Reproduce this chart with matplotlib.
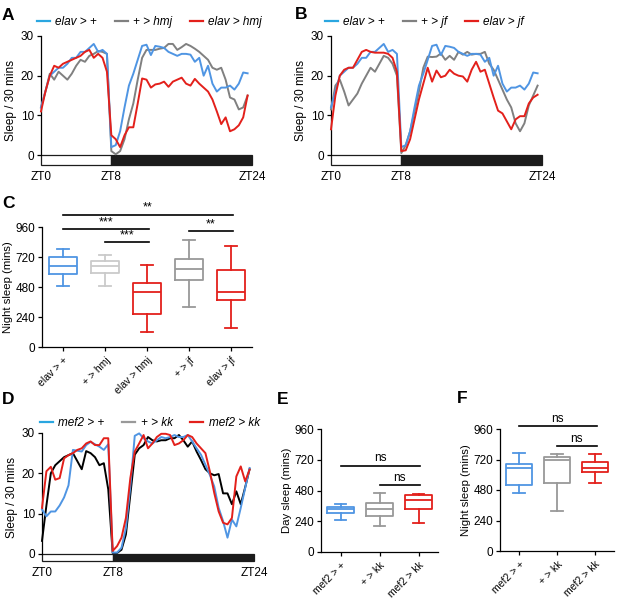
import numpy as np
import matplotlib
matplotlib.use("Agg")
import matplotlib.pyplot as plt
from matplotlib.lines import Line2D

plt.rcParams['font.family'] = ['Liberation Sans', 'DejaVu Sans']
plt.rcParams['font.size'] = 8

# ---------------- data ----------------
# sleep per 30 min bin, 48 bins starting at ZT0
zt = np.arange(48) * 0.5

elav_ctrl = [12, 16, 20, 21, 22, 22, 23, 24.5, 24.5, 26, 26, 27, 28, 26, 26.5, 25.5,
             2, 2.5, 6, 12, 17.5, 20.5, 24, 27.5, 27.8, 25.2, 27.5, 27.3, 27, 26, 25.5, 25,
             25.5, 25.5, 25.3, 23.5, 24.5, 20, 22.5, 18, 16, 17, 17, 17.5, 16.5, 18, 20.8, 20.6]
hmj_ctrl = [12, 16, 20.5, 19, 21, 20, 19, 20.5, 22.5, 24, 23.5, 25, 25.5, 26.2, 26, 25.5,
            1, 0.2, 1, 4, 9, 13, 19, 24.5, 26.5, 26.5, 26.5, 26.8, 27, 28, 28, 26.5,
            27.2, 28, 27.5, 26.8, 26, 25, 24, 22, 21.5, 22, 19, 14.5, 14, 11.5, 12, 15]
elav_hmj = [11, 16, 20, 22.5, 22, 23, 23.5, 24, 24.5, 25, 26, 26.5, 24.5, 25.5, 24.5, 21,
            5, 4, 2, 5, 7, 7, 13, 19.3, 19, 17, 17.8, 18, 18.5, 17.2, 18.5, 19,
            19.5, 18, 17.5, 19.2, 18, 17, 16, 14, 11, 7.8, 9.5, 6, 6.5, 7.5, 9.5, 15]
jf_ctrl = [11.5, 17.5, 19, 16, 12.5, 14, 15.5, 18, 20, 22, 21, 23, 25, 24.5, 23, 20,
           0.5, 2.5, 6, 11, 16, 22, 24.8, 24.7, 24.8, 25.6, 24, 25, 24, 26, 25.3, 26,
           25.3, 25.5, 25.5, 26, 23, 21.5, 19, 16.5, 14, 12, 8, 6, 8, 12.5, 15, 17.5]
elav_jf = [6.5, 15, 20, 21.5, 22, 22, 24, 26, 26.5, 26, 25.8, 25.8, 25.8, 25.5, 24.5, 21,
           1, 1.2, 4, 9, 14, 18, 22, 18.5, 21.3, 19.6, 20, 21.5, 20.5, 20, 19.8, 18.5,
           21.5, 23.5, 21, 21.5, 18, 14.5, 11.2, 10.5, 8.5, 6.5, 9, 9.8, 9.8, 13, 14.5, 15.2]
mef2_ctrl = [11, 9.3, 10.5, 10.5, 12, 14, 17, 25.8, 25.6, 25.4, 27, 27.8, 27.2, 26.6, 25.8, 27.2,
             0.3, 0.3, 1.5, 6.4, 16.7, 29.3, 29.9, 28.7, 27.9, 27.4, 28.2, 29, 28.7, 29, 29.5, 29,
             29, 29.5, 27.9, 26.2, 24.6, 22.1, 19.6, 16.7, 11.4, 8.1, 4, 8.5, 6.8, 11.4, 16.3, 21.3]
kk_ctrl = [3.2, 12, 20, 22, 23, 24, 24.5, 25, 23, 21, 25.5, 25, 24, 22, 22.5, 16,
           0.2, 0.2, 1, 4.8, 14.7, 24.6, 26.2, 27, 29, 28.2, 27.9, 28.2, 28.2, 28.7, 28.7, 29.5,
           28.2, 26.6, 27.9, 25.4, 23.3, 21, 20, 19.5, 19.8, 15, 15, 12.3, 15.5, 12.3, 16.5, 21]
mef2_kk = [11.4, 20.5, 21.6, 18.4, 18.8, 23.7, 24.5, 25, 25.8, 26.2, 27.4, 27.9, 27, 27, 28.7, 28.7,
           0.7, 1.9, 4, 8.9, 18.8, 25.4, 27.4, 29.5, 26.2, 27.4, 29, 29.8, 29.8, 29.5, 27, 27.4,
           28.2, 29.5, 29, 27.4, 26.2, 25, 20.5, 15.1, 10.5, 7.7, 7.3, 8.9, 19.2, 21.7, 18, 20.9]

light_start = [0, 8]
light_len = [8, 16]

# panel C: night sleep (mins)
c_labels = ['elav > +', '+ > hmj', 'elav > hmj', '+ > jf', 'elav > jf']
c_lo = [491, 488, 119, 324, 151]
c_q1 = [583, 589, 263, 538, 374]
c_med = [647, 647, 440, 628, 438]
c_q3 = [721, 687, 509, 708, 613]
c_hi = [788, 740, 655, 854, 811]
c_sig = [(0, 4, 1060, '**'), (0, 2, 944, '***'), (1, 2, 838, '***'), (3, 4, 925, '**')]

# panel E: day sleep (mins)
ef_labels = ['mef2 > +', '+ > kk', 'mef2 > kk']
e_lo = [246, 204, 228]
e_q1 = [303, 280, 332]
e_med = [335, 337, 408]
e_q3 = [353, 382, 447]
e_hi = [371, 460, 450]
e_sig = [(0, 2, 675, 'ns'), (1, 2, 523, 'ns')]

# panel F: night sleep (mins)
f_lo = [459, 316, 533]
f_q1 = [517, 538, 625]
f_med = [652, 715, 657]
f_q3 = [686, 739, 699]
f_hi = [770, 760, 765]
f_sig = [(0, 2, 986, 'ns'), (1, 2, 828, 'ns')]

BLUE = '#4f95e3'
LBLUE = '#2aa6e0'
RED = '#e3201b'
GRAY = '#808080'
LGRAY = '#cacaca'
MGRAY = '#999999'

W, H = 617, 603
fig = plt.figure(figsize=(W / 100, H / 100), dpi=100)


def px_axes(l, t, r, b):
    return fig.add_axes([l / W, 1 - b / H, (r - l) / W, (b - t) / H])


def sleep_panel(ax, series, ybot):
    for y, c in series:
        ax.plot(zt, y, color=c, lw=1.4, zorder=3, clip_on=False)
    ax.barh(ybot / 2, light_len, left=light_start, height=-ybot,
            color=['white', '#1c1c1c'], edgecolor='#1c1c1c', lw=0.9, zorder=2,
            clip_on=False)
    ax.set_xlim(0, 24)
    ax.set_ylim(ybot, 30)
    for s in ['top', 'right', 'bottom']:
        ax.spines[s].set_visible(False)
    ax.spines['left'].set_bounds(0, 30)
    ax.spines['left'].set_linewidth(0.9)
    ax.set_yticks([0, 10, 20, 30])
    ax.set_xticks([0, 8, 24])
    ax.set_xticklabels(['ZT0', 'ZT8', 'ZT24'])
    ax.tick_params(axis='x', length=0, pad=4, labelsize=8.5)
    ax.tick_params(axis='y', length=3, width=0.9, pad=2, labelsize=8.5)
    ax.set_ylabel('Sleep / 30 mins', fontsize=8.5, labelpad=3)


def add_legend(ax, labels, colors, x, y):
    hs = [Line2D([], [], color=c, lw=1.6) for c in colors]
    ax.legend(hs, labels, loc='center left', bbox_to_anchor=(x / W, 1 - y / H),
              bbox_transform=fig.transFigure, ncol=3, frameon=False,
              handlelength=1.1, handletextpad=0.45, columnspacing=1.5,
              borderaxespad=0, borderpad=0, prop={'style': 'italic', 'size': 8.5})


def box_panel(ax, labels, lo, q1, med, q3, hi, colors, ylabel, sig):
    stats = [dict(whislo=a, q1=b, med=c, q3=d, whishi=e, label=l)
             for a, b, c, d, e, l in zip(lo, q1, med, q3, hi, labels)]
    n = len(labels)
    art = ax.bxp(stats, positions=range(n), widths=0.68, capwidths=0.3,
                 showfliers=False)
    for i, c in enumerate(colors):
        art['boxes'][i].set(color=c, lw=1.3)
        art['medians'][i].set(color=c, lw=1.3)
        for k in (2 * i, 2 * i + 1):
            art['whiskers'][k].set(color=c, lw=1.3)
            art['caps'][k].set(color=c, lw=1.3)
    ax.set_xlim(-0.5, n - 0.5)
    ax.set_ylim(0, 960)
    ax.set_yticks([0, 240, 480, 720, 960])
    for s in ['top', 'right']:
        ax.spines[s].set_visible(False)
    for s in ['left', 'bottom']:
        ax.spines[s].set_linewidth(0.9)
    ax.set_xticklabels(labels, rotation=45, ha='right', rotation_mode='anchor', fontsize=7.5)
    ax.tick_params(axis='x', length=3, width=0.9, pad=3)
    ax.tick_params(axis='y', length=3, width=0.9, pad=2, labelsize=8.5)
    ax.set_ylabel(ylabel, fontsize=8.2, labelpad=1.5)
    for x0, x1, y, t in sig:
        ax.plot([x0, x1 + 0.05], [y, y], color='black', lw=1.2, clip_on=False)
        ax.text((x0 + x1) / 2 + 0.02, y + 8, t, ha='center', va='bottom',
                fontsize=8.5 if t == 'ns' else 9)


# ---- A ----
axA = px_axes(41, 36, 252, 165)
sleep_panel(axA, [(hmj_ctrl, GRAY), (elav_ctrl, BLUE), (elav_hmj, RED)], -2.5)
add_legend(axA, ['elav > +', '+ > hmj', 'elav > hmj'], [LBLUE, GRAY, RED], 37, 22)

# ---- B ----
axB = px_axes(331, 36, 542, 165)
sleep_panel(axB, [(jf_ctrl, GRAY), (elav_ctrl, BLUE), (elav_jf, RED)], -2.5)
add_legend(axB, ['elav > +', '+ > jf', 'elav > jf'], [LBLUE, GRAY, RED], 325, 22)

# ---- C ----
axC = px_axes(42, 227, 252, 347)
box_panel(axC, c_labels, c_lo, c_q1, c_med, c_q3, c_hi,
          [BLUE, LGRAY, RED, MGRAY, RED], 'Night sleep (mins)', c_sig)

# ---- D ----
axD = px_axes(42, 433, 254, 561)
sleep_panel(axD, [(kk_ctrl, 'black'), (mef2_ctrl, BLUE), (mef2_kk, RED)], -1.8)
add_legend(axD, ['mef2 > +', '+ > kk', 'mef2 > kk'], [LBLUE, MGRAY, RED], 40, 423)

# ---- E ----
axE = px_axes(321, 429, 438, 552)
box_panel(axE, ef_labels, e_lo, e_q1, e_med, e_q3, e_hi,
          [BLUE, MGRAY, RED], 'Day sleep (mins)', e_sig)

# ---- F ----
axF = px_axes(500, 429, 614, 551)
box_panel(axF, ef_labels, f_lo, f_q1, f_med, f_q3, f_hi,
          [BLUE, MGRAY, RED], 'Night sleep (mins)', f_sig)

# panel letters
for t, x, y in [('A', 2, 20), ('B', 295, 19), ('C', 2, 208),
                ('D', 2, 404), ('E', 277, 404), ('F', 457, 403)]:
    fig.text(x / W, 1 - y / H, t, fontsize=12.5, fontweight='bold',
             ha='left', va='baseline')

fig.savefig('out.png', dpi=100)
